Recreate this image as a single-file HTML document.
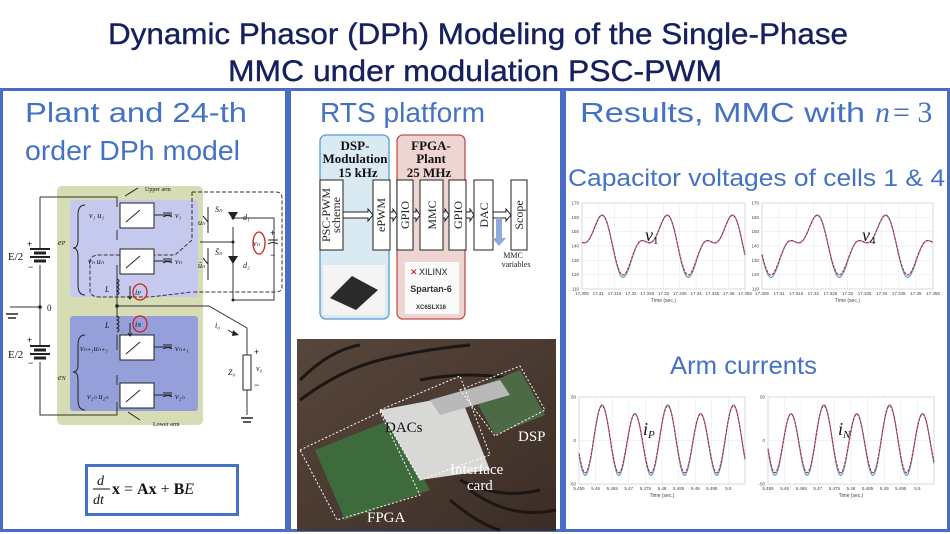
<!DOCTYPE html>
<html><head><meta charset="utf-8"><style>
html,body{margin:0;padding:0;background:#fff;}
svg{display:block;}
text{font-family:"Liberation Sans",sans-serif;}
.ser, .ser text, text.ser{font-family:"Liberation Serif",serif;}
</style></head><body>
<svg id="s" width="950" height="534" viewBox="0 0 950 534" xmlns="http://www.w3.org/2000/svg">
<rect width="950" height="534" fill="#fff"/>
<!-- title -->
<text x="478" y="44" text-anchor="middle" font-size="30" fill="#16205f" stroke="#16205f" stroke-width="0.4" textLength="740" lengthAdjust="spacingAndGlyphs">Dynamic Phasor (DPh) Modeling of the Single-Phase</text>
<text x="475" y="81" text-anchor="middle" font-size="30" fill="#16205f" stroke="#16205f" stroke-width="0.4" textLength="494" lengthAdjust="spacingAndGlyphs">MMC under modulation PSC-PWM</text>
<!-- frames -->
<g fill="none" stroke="#4a6cc4" stroke-width="3">
<rect x="1.5" y="89.5" width="285" height="441"/>
<rect x="289.5" y="89.5" width="272" height="441"/>
<rect x="564.5" y="89.5" width="384" height="441"/>
</g>
<!-- headings -->
<g fill="#4472c4" font-size="28">
<text x="25" y="122" textLength="222" lengthAdjust="spacingAndGlyphs">Plant and 24-th</text>
<text x="25" y="160" textLength="215" lengthAdjust="spacingAndGlyphs">order DPh model</text>
<text x="320" y="122" textLength="165" lengthAdjust="spacingAndGlyphs">RTS platform</text>
<text x="580" y="122" textLength="285" lengthAdjust="spacingAndGlyphs">Results, MMC with</text>
<text x="875" y="122" class="ser" font-style="italic" font-size="30">n</text>
<text x="893" y="122" class="ser" font-size="30">= 3</text>
<text x="568" y="186" font-size="24" textLength="377" lengthAdjust="spacingAndGlyphs">Capacitor voltages of cells 1 &amp; 4</text>
<text x="670" y="374" font-size="25" textLength="147" lengthAdjust="spacingAndGlyphs">Arm currents</text>
</g>

<!-- circuit -->
<g>
<rect x="57" y="186" width="146" height="239" rx="5" fill="#d6dcb3"/>
<rect x="70" y="200" width="128" height="97" rx="3" fill="#c6c9ee"/>
<rect x="70" y="316" width="128" height="95" rx="3" fill="#95a0da"/>
<g fill="none" stroke="#333" stroke-width="1">
<path d="M192 192 H276 Q282 192 282 198 V286 Q282 292 276 292 H192 M192 192 V240 L175 255 H100 Q90 255 90 262 V290 Q90 297 100 297 H150 L192 292" stroke-dasharray="4 2"/>
<path d="M40 197 H117 V207 M40 197 V248 M40 265 V345 M40 362 V415 H117 V402"/>
<path d="M10 307 H40"/>
<path d="M117 230 V240 M117 265 V318 M117 335 V350 M117 375 V385"/>
<path d="M117 306 H209 L247 328 V355 M247 390 V415"/>
<path d="M233 227 V300 M233 218 H274 V300 H233 M200 242 H233"/>
</g>
<g stroke="#222" stroke-width="2">
<line x1="30" y1="249" x2="50" y2="249"/><line x1="34" y1="253" x2="46" y2="253" stroke-width="3"/>
<line x1="30" y1="257" x2="50" y2="257"/><line x1="34" y1="261" x2="46" y2="261" stroke-width="3"/>
<line x1="30" y1="346" x2="50" y2="346"/><line x1="34" y1="350" x2="46" y2="350" stroke-width="3"/>
<line x1="30" y1="354" x2="50" y2="354"/><line x1="34" y1="358" x2="46" y2="358" stroke-width="3"/>
<line x1="6" y1="314" x2="18" y2="314" stroke-width="1.5"/><line x1="8" y1="318" x2="16" y2="318" stroke-width="1.5"/>
<line x1="241" y1="418" x2="253" y2="418" stroke-width="1.5"/><line x1="243" y1="422" x2="251" y2="422" stroke-width="1.5"/>
</g>
<circle cx="40" cy="307" r="1.8" fill="#222"/><circle cx="117" cy="306" r="1.8" fill="#222"/>
<g fill="#fff" stroke="#222" stroke-width="1">
<rect x="120" y="203" width="34" height="25"/>
<rect x="120" y="249" width="34" height="25"/>
<rect x="120" y="335" width="34" height="25"/>
<rect x="120" y="383" width="34" height="25"/>
<rect x="243" y="355" width="8" height="35"/>
</g>
<g stroke="#222" stroke-width="1" fill="none">
<path d="M126 222 L140 210 M126 268 L140 256 M126 354 L140 342 M126 402 L140 390"/>
<path d="M154 215 H172 M154 261 H172 M154 347 H172 M154 395 H172"/>
<path d="M163 213 H172 M163 217 Q168 214 172 217 M163 259 H172 M163 263 Q168 260 172 263 M163 345 H172 M163 349 Q168 346 172 349 M163 393 H172 M163 397 Q168 394 172 397"/>
<path d="M117 279 q4 2 0 4 q4 2 0 4 q4 2 0 4 q4 2 0 4 M117 316 q4 2 0 4 q4 2 0 4 q4 2 0 4 q4 2 0 4"/>
<path d="M130 286 V298 M128 296 L130 299 L132 296 M130 323 V335 M128 333 L130 336 L132 333"/>
<path d="M228 330 L236 335" />
<path d="M85 205 Q78 205 78 215 V240 Q78 248 73 248 Q78 248 78 256 V285 Q78 295 85 295 M85 335 Q78 335 78 345 V365 Q78 372 73 372 Q78 372 78 380 V400 Q78 410 85 410"/>
<path d="M138 188 L125 196 M140 420 L128 412"/>
<path d="M208 207 V233 M208 248 V280 M203 216 L208 222 M203 258 L208 264"/>
<path d="M268 240 H278 M268 244 Q273 241 278 244"/>
</g>
<g fill="#222">
<polygon points="228,212 238,212 233,220"/><polygon points="228,256 238,256 233,264"/>
<circle cx="233" cy="218" r="1.5"/><circle cx="233" cy="300" r="1.5"/><circle cx="233" cy="242" r="1.5"/>
<path d="M233 330 l6 5 l-7 1z"/>
</g>
<g fill="none" stroke="#d02020" stroke-width="1.3">
<ellipse cx="259" cy="243" rx="6" ry="11"/>
<ellipse cx="140" cy="292" rx="7" ry="8"/>
<ellipse cx="140" cy="324" rx="7" ry="8"/>
</g>
<g class="ser" font-size="8" font-style="italic" fill="#111">
<text x="8" y="260" font-size="11" font-style="normal">E/2</text>
<text x="8" y="358" font-size="11" font-style="normal">E/2</text>
<text x="47" y="311" font-size="9" font-style="normal">0</text>
<text x="145" y="191" font-size="6" font-style="normal">Upper arm</text>
<text x="153" y="426" font-size="6" font-style="normal">Lower arm</text>
<text x="89" y="218">v₁ u₁</text><text x="175" y="218">v₁</text>
<text x="88" y="264">vₙ uₙ</text><text x="175" y="264">vₙ</text>
<text x="80" y="351">vₙ₊₁uₙ₊₁</text><text x="175" y="351">vₙ₊₁</text>
<text x="87" y="399">v₂ₙ u₂ₙ</text><text x="175" y="399">v₂ₙ</text>
<text x="58" y="245">e<tspan font-size="6">P</tspan></text>
<text x="58" y="380">e<tspan font-size="6">N</tspan></text>
<text x="105" y="292">L</text><text x="105" y="328">L</text>
<text x="135" y="295">i<tspan font-size="6">P</tspan></text>
<text x="135" y="327">i<tspan font-size="6">N</tspan></text>
<text x="215" y="212">Sₙ</text><text x="198" y="225">uₙ</text><text x="243" y="220">d₁</text>
<text x="215" y="255">S̄ₙ</text><text x="198" y="268">ūₙ</text><text x="243" y="268">d₂</text>
<text x="253" y="246">vₙ</text>
<text x="215" y="328">i₀</text>
<text x="228" y="375">Z₀</text><text x="256" y="371">v₀</text>
</g>
<g font-size="9" fill="#111">
<text x="27" y="247">+</text><text x="27" y="343">+</text><text x="28" y="270">−</text><text x="28" y="366">−</text>
<text x="254" y="355">+</text><text x="254" y="388">−</text>
<text x="270" y="236">+</text><text x="270" y="258">−</text>
</g>
</g>
<!-- equation -->
<rect x="86.5" y="465.5" width="151" height="49" fill="#fff" stroke="#4472c4" stroke-width="3"/>
<g class="ser" fill="#111">
<text x="97" y="485" font-size="14" font-style="italic">d</text>
<line x1="93" y1="489" x2="110" y2="489" stroke="#111" stroke-width="1"/>
<text x="93" y="504" font-size="14" font-style="italic">dt</text>
<text x="112" y="494" font-size="16" font-weight="bold">x</text>
<text x="124" y="494" font-size="16">= <tspan font-weight="bold">Ax</tspan> + <tspan font-weight="bold">B</tspan><tspan font-style="italic">E</tspan></text>
</g>

<!-- block diagram -->
<rect x="320" y="135" width="69" height="184" rx="6" fill="#d9eaf3" stroke="#5b9bd5" stroke-width="1.3"/>
<rect x="397" y="135" width="68" height="184" rx="6" fill="#efd5d2" stroke="#c0504d" stroke-width="1.3"/>
<g class="ser" font-weight="bold" font-size="13" fill="#111" text-anchor="middle">
<text x="355" y="150">DSP-</text><text x="355" y="163">Modulation</text><text x="358" y="177">15 kHz</text>
<text x="431" y="150">FPGA-</text><text x="431" y="163">Plant</text><text x="429" y="177">25 MHz</text>
</g>
<g fill="#fff" stroke="#222" stroke-width="1">
<rect x="320" y="180" width="23" height="70"/><rect x="373" y="180" width="17" height="70"/>
<rect x="397" y="180" width="16" height="70"/><rect x="420" y="180" width="23" height="70"/>
<rect x="449" y="180" width="17" height="70"/><rect x="474" y="180" width="19" height="70"/>
<rect x="511" y="180" width="16" height="70"/>
<path d="M343 212 H368 V209 L373 215 L368 221 V218 H343Z M390 212 H393 V209 L397 215 L393 221 V218 H390Z M413 212 H416 V209 L420 215 L416 221 V218 H413Z M443 212 H445 V209 L449 215 L445 221 V218 H443Z M466 212 H470 V209 L474 215 L470 221 V218 H466Z M493 212 H506 V209 L511 215 L506 221 V218 H493Z"/>
</g>
<path d="M496 218 H502 V238 H506 L499 246 L492 238 H496Z" fill="#8eaadb"/>
<g class="ser" font-size="12" fill="#222" text-anchor="middle">
<text transform="translate(330,215) rotate(-90)">PSC-PWM</text>
<text transform="translate(340,215) rotate(-90)">scheme</text>
<text transform="translate(385,215) rotate(-90)">ePWM</text>
<text transform="translate(409,215) rotate(-90)">GPIO</text>
<text transform="translate(436,215) rotate(-90)">MMC</text>
<text transform="translate(462,215) rotate(-90)">GPIO</text>
<text transform="translate(488,215) rotate(-90)">DAC</text>
<text transform="translate(523,215) rotate(-90)">Scope</text>
<text x="513" y="258" font-size="8">MMC</text><text x="516" y="267" font-size="8">variables</text>
</g>
<rect x="323" y="265" width="62" height="50" fill="#f4f4f4"/>
<polygon points="330,298 352,276 378,290 356,310" fill="#2a2a2a"/>
<rect x="405" y="262" width="54" height="52" fill="#fafafa"/>
<text x="410" y="275" font-size="9" fill="#c00">✕</text>
<text x="419" y="275" font-size="9" fill="#222">XILINX</text>
<text x="431" y="292" font-size="9" font-weight="bold" fill="#333" text-anchor="middle">Spartan-6</text>
<text x="431" y="309" font-size="6" font-weight="bold" fill="#333" text-anchor="middle">XC6SLX16</text>

<!-- photo -->
<defs><linearGradient id="pg" x1="0" y1="0" x2="1" y2="1"><stop offset="0" stop-color="#57463b"/><stop offset="0.5" stop-color="#4a3a31"/><stop offset="1" stop-color="#3b2d26"/></linearGradient></defs>
<rect x="297" y="339" width="259" height="192" fill="url(#pg)"/>
<g fill="none" stroke="#1c1714" stroke-width="3">
<path d="M300 400 Q340 370 380 360 T470 345 M300 380 Q330 350 360 345 M420 380 Q470 370 520 380 M460 480 Q500 500 540 490 M470 490 Q510 520 556 510 M450 500 Q480 525 500 530"/>
</g>
<polygon points="315,450 390,420 430,490 345,520" fill="#3e6b3c"/>
<polygon points="380,410 460,395 490,470 420,480" fill="#d8d8d6"/>
<polygon points="470,390 520,370 545,415 495,435" fill="#4d6a46"/>
<polygon points="430,400 500,380 510,395 440,415" fill="#b9b9b9"/>
<g fill="none" stroke="#fff" stroke-width="1" stroke-dasharray="2 2">
<polygon points="300,450 380,412 420,495 337,520"/>
<polygon points="380,410 460,376 490,455 420,480"/>
<polygon points="460,390 520,366 545,410 495,436"/>
</g>
<g class="ser" fill="#fff" font-size="15">
<text x="385" y="432" fill="#111">DACs</text>
<text x="450" y="474">Interface</text><text x="467" y="490">card</text>
<text x="518" y="441">DSP</text>
<text x="367" y="522">FPGA</text>
</g>

<g id="plots"></g>
</svg>
<script>
(function(){
var g=document.getElementById('plots'),NS='http://www.w3.org/2000/svg';
function el(t,a,txt){var e=document.createElementNS(NS,t);for(var k in a)e.setAttribute(k,a[k]);if(txt)e.textContent=txt;g.appendChild(e);return e;}
function plot(x0,y0,w,h,ymin,ymax,yt,xt,f,label,sub,lx,ly){
 el('rect',{x:x0,y:y0,width:w,height:h,fill:'#fff',stroke:'#999','stroke-width':0.5});
 for(var i=0;i<xt.length;i++){var x=x0+w*i/(xt.length-1);el('line',{x1:x,y1:y0,x2:x,y2:y0+h,stroke:'#e6e6e6','stroke-width':0.5});
  el('text',{x:x,y:y0+h+6,'font-size':4.5,'text-anchor':'middle',fill:'#444'},xt[i]);}
 for(var j=0;j<yt.length;j++){var v=yt[j];var y=y0+h-(v-ymin)/(ymax-ymin)*h;el('line',{x1:x0,y1:y,x2:x0+w,y2:y,stroke:'#e6e6e6','stroke-width':0.5});
  el('text',{x:x0-3,y:y+1.5,'font-size':4.5,'text-anchor':'end',fill:'#444'},String(v));}
 el('text',{x:x0+w/2,y:y0+h+13,'font-size':5,'text-anchor':'middle',fill:'#444'},'Time (sec.)');
 [['#4aa8d8',1.2,0],['#d02020',1.1,1]].forEach(function(c){var d='';for(var k=0;k<=300;k++){var s=k/300;var v=f(s,c[2]);var y=y0+h-(v-ymin)/(ymax-ymin)*h;d+=(k?'L':'M')+(x0+s*w).toFixed(1)+' '+y.toFixed(1);}
  el('path',{d:d,fill:'none',stroke:c[0],'stroke-width':c[1],'stroke-dasharray':c[2]?'3 1':''});});
 var t=el('text',{x:lx,y:ly,'font-size':18,'font-style':'italic',style:'font-family:"Liberation Serif",serif',fill:'#111'},label);
 var ts=document.createElementNS(NS,'tspan');ts.setAttribute('font-size',11);ts.setAttribute('dy',3);ts.setAttribute('font-style',label=='i'?'italic':'normal');ts.textContent=sub;t.appendChild(ts);
}
function v(sh){return function(s,r){var t=17.305+s*0.05;var th=2*Math.PI*(t-17.312-sh)/0.02;var val=141+9.5*Math.cos(th)+9.5*Math.cos(2*th)-12.5*Math.sin(th);if(r)val=val+0.25*(141-val)*(val<135?0.3:0.05);return val;};}
function cur(sh){return function(s,r){var t=5.453+s*0.0505;var th=2*Math.PI*(t-5.46)/0.01;var val=-2+38*Math.cos(th)+5*Math.cos(th/2+sh);if(r)val=val*0.95+1;return val;};}
var xt1=['17.305','17.31','17.315','17.32','17.325','17.33','17.335','17.34','17.345','17.35','17.355'];
plot(582,203,163,86,110,170,[110,120,130,140,150,160,170],xt1,v(0),'v','1',645,241);
plot(762,203,171,86,110,170,[110,120,130,140,150,160,170],xt1,v(0.01),'v','4',862,241);
var xt2=['5.455','5.46','5.465','5.47','5.475','5.48','5.485','5.49','5.495','5.5',''];
plot(579,397,166,87,-50,50,[-50,0,50],xt2,cur(0),'i','P',643,435);
plot(768,397,166,87,-50,50,[-50,0,50],xt2,cur(Math.PI),'i','N',838,435);
})();
</script>
</body></html>
